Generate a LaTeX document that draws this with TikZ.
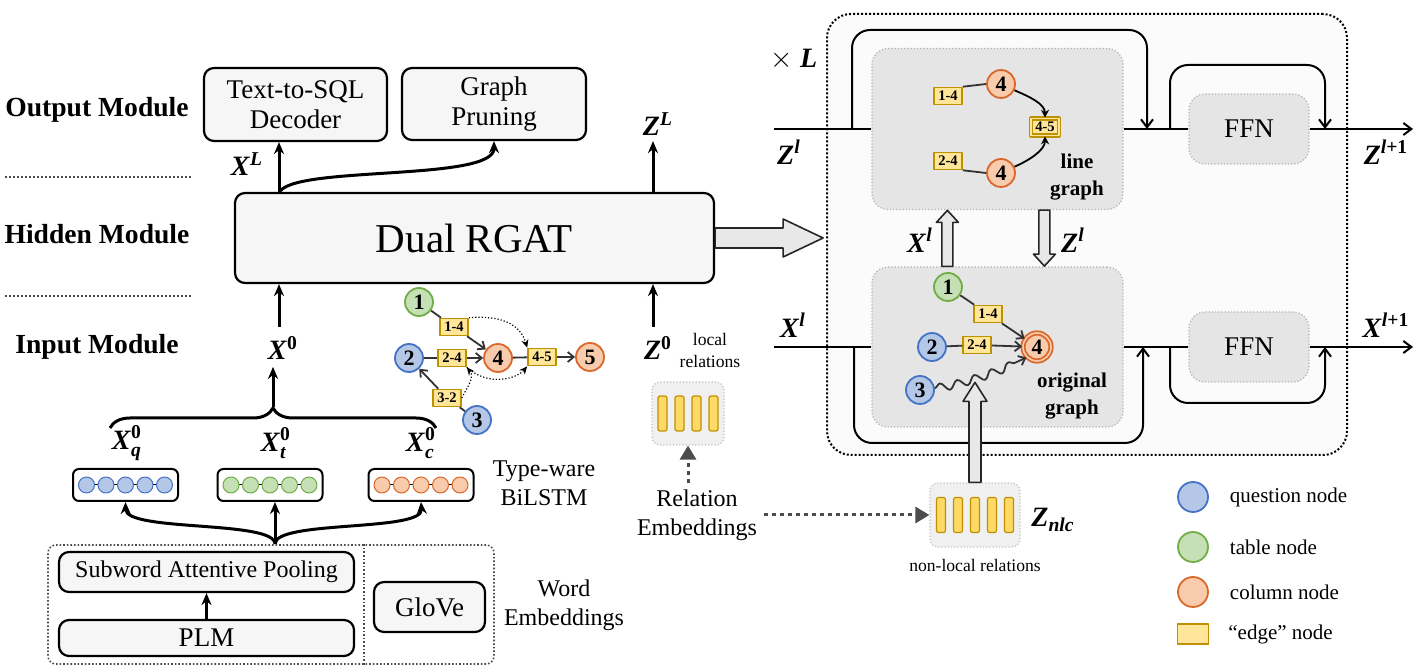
\documentclass[tikz,border=0pt]{standalone}
\usepackage{amsmath}
\usepackage{fontspec}
\setmainfont{Liberation Serif}
\usetikzlibrary{arrows.meta,calc,positioning,decorations.pathreplacing,decorations.pathmorphing}

\definecolor{qfill}{HTML}{B4C7E7}
\definecolor{qline}{HTML}{4472C4}
\definecolor{tfill}{HTML}{C5E0B4}
\definecolor{tline}{HTML}{70AD47}
\definecolor{cfill}{HTML}{F8CBAD}
\definecolor{cline}{HTML}{D9682A}
\definecolor{efill}{HTML}{FFE699}
\definecolor{eline}{HTML}{BF9000}
\definecolor{barc}{HTML}{FFD966}

\newcommand{\mvar}[1]{\textbf{\textit{#1}}}
\newcommand{\fsTxt}{\fontsize{12}{14.5}\selectfont}
\newcommand{\fsMod}{\fontsize{13.8}{15}\selectfont\bfseries}
\newcommand{\fsBox}{\fontsize{13.5}{15}\selectfont}
\newcommand{\fsBig}{\fontsize{20.5}{24}\selectfont}
\newcommand{\fsMid}{\fontsize{12}{14.5}\selectfont}
\newcommand{\fsSm}{\fontsize{8.8}{11}\selectfont}
\newcommand{\fsLeg}{\fontsize{10.5}{12}\selectfont}
\newcommand{\fsMath}{\fontsize{14}{15}\selectfont}
\newcommand{\fsNum}{\fontsize{11}{12}\selectfont\bfseries}
\newcommand{\fsEdge}{\fontsize{7.3}{8}\selectfont\bfseries}
\newcommand{\fsGr}{\fontsize{10.5}{13.5}\selectfont\bfseries}

\tikzset{
  pics/fatarrow/.style n args={4}{code={
    \draw[hollow] (0,-#2) -- (#1-#4,-#2) -- (#1-#4,-#3) -- (#1,0) -- (#1-#4,#3) -- (#1-#4,#2) -- (0,#2) -- cycle;}},
}

\begin{document}
\begin{tikzpicture}[x=0.5pt, y=-0.5pt, line join=round,
    every node/.append style={font=\fsTxt},
    tbox/.style={draw, line width=1.1pt, rounded corners=5pt, fill=gray!7, align=center, inner sep=0pt, font=\fsBox},
    gbox/.style={draw=gray!60, densely dotted, line width=0.6pt, fill=gray!20, rounded corners=8pt, inner sep=0pt},
    rbox/.style={draw=gray!50, densely dotted, line width=0.6pt, fill=gray!12, rounded corners=4pt, inner sep=0pt},
    modsep/.style={draw=gray!60!black, densely dotted, line width=1pt},
    thk/.style={line width=1.5pt},
    arr/.style={-{Stealth[length=6pt,width=5pt]}},
    rline/.style={line width=1pt},
    rtip/.style={-{Straight Barb[length=4pt,width=6pt]}},
    gedge/.style={draw=gray!40!black, line width=0.9pt},
    gtip/.style={-{Straight Barb[length=3pt,width=5pt]}},
    hollow/.style={draw=black!85, line width=0.8pt, fill=gray!18},
    relarr/.style={draw=gray!60!black, line width=1.5pt, dash pattern=on 2pt off 2pt, -{Triangle[length=7pt,width=8pt]}},
    mlbl/.style={font=\fsMath},
    gnode/.style={circle, line width=0.9pt, inner sep=0pt, minimum size=14pt, font=\fsNum},
    qn/.style={gnode, draw=qline, fill=qfill},
    tn/.style={gnode, draw=tline, fill=tfill},
    cn/.style={gnode, draw=cline, fill=cfill},
    en/.style={draw=eline, fill=efill, line width=0.8pt, inner sep=0.8pt, minimum width=14pt, minimum height=8.5pt, font=\fsEdge},
    lstdot/.style={circle, line width=0.5pt, inner sep=0pt, minimum size=8pt},
    lstm/.style={draw, line width=1pt, rounded corners=3pt, fill=white, minimum width=52.5pt, minimum height=16pt, inner sep=0pt},
    relbar/.style={draw=eline, fill=barc, line width=0.6pt, rounded corners=1pt, minimum width=4.5pt, minimum height=17.5pt, inner sep=0pt},
  ]
    \useasboundingbox (0,0) rectangle (1419,672);

    % module labels
    \node[font=\fsMod] (outlbl) at (97,110) {Output Module};
    \node[font=\fsMod] (hidlbl) at (97,234) {Hidden Module};
    \node[font=\fsMod] (inlbl) at (97,347) {Input Module};
    \draw[modsep] (5,177) -- (193,177);
    \draw[modsep] (5,296) -- (193,296);

    % output and hidden module
    \node[tbox, minimum width=91.5pt, minimum height=36.5pt] (dec) at (295.5,104.5) {Text-to-SQL\\Decoder};
    \node[tbox, minimum width=92pt, minimum height=36pt] (gp) at (494,104) {Graph\\Pruning};
    \node[tbox, minimum width=239.5pt, minimum height=45pt, font=\fsBig] (rgat) at (474.5,238) {Dual RGAT};
    \coordinate (xout) at (279,193);
    \coordinate (zout) at (653,193);
    \draw[thk,arr] (xout) -- (xout |- dec.south);
    \draw[thk,arr] (xout) .. controls (290,165) and (494,182) .. (gp.south);
    \draw[thk,arr] (zout) -- (zout |- gp.south);
    \node[mlbl] (xL) at (247,164) {$\mvar{X}^{\mvar{L}}$};
    \node[mlbl] (zL) at (658,124) {$\mvar{Z}^{\mvar{L}}$};

    % input module
    \node[mlbl] (x0) at (283,348) {$\mvar{X}^{\textbf{0}}$};
    \node[mlbl] (z0) at (658,348) {$\mvar{Z}^{\textbf{0}}$};
    \coordinate (xin) at (279,327);
    \coordinate (zin) at (653,327);
    \draw[thk,arr] (xin) -- (xin |- rgat.south);
    \draw[thk,arr] (zin) -- (zin |- rgat.south);
    \draw[thk, decorate, decoration={brace, amplitude=10pt}] (110,428) -- (436,428);
    \coordinate (brtip) at (273,407);
    \draw[thk,arr] (brtip) -- (brtip |- x0.south);
    \node[mlbl] (xq) at (127,443) {$\mvar{X}^{\textbf{0}}_{\mvar{q}}$};
    \node[mlbl] (xt) at (276,443) {$\mvar{X}^{\textbf{0}}_{\mvar{t}}$};
    \node[mlbl] (xc) at (421,443) {$\mvar{X}^{\textbf{0}}_{\mvar{c}}$};

    \node[lstm] (lstq) at (125.5,485) {};
    \node[lstm] (lstt) at (270,485) {};
    \node[lstm] (lstc) at (421,485) {};
    \foreach \b/\f/\d in {lstq/qfill/qline, lstt/tfill/tline, lstc/cfill/cline}{
      \draw[line width=0.5pt] ($(\b)+(-39,0)$) -- ($(\b)+(39,0)$);
      \foreach \i in {-2,...,2}
        \node[lstdot, draw=\d, fill=\f] at ($(\b)+(\i*19.5,0)$) {};
    }
    \node[font=\fsMid, align=center] (bilstm) at (544,483) {Type-ware\\BiLSTM};

    \coordinate (fork) at (275,544);
    \draw[thk,arr] (fork) -- (fork |- lstt.south);
    \draw[thk,arr] (fork) .. controls (275,520) and (126,532) .. (lstq.south);
    \draw[thk,arr] (fork) .. controls (275,520) and (423,532) .. (lstc.south);

    % word embeddings
    \node[draw=gray!60!black, densely dotted, line width=0.8pt, rounded corners=4pt, minimum width=223pt, minimum height=59.5pt, inner sep=0pt] (we) at (271,604.5) {};
    \draw[gray!60!black, densely dotted, line width=0.8pt] ($(we.north west)+(317,0)$) -- ($(we.south west)+(317,0)$);
    \node[tbox, minimum width=147.5pt, minimum height=20pt, font=\fsMid] (sap) at (206.5,572) {Subword Attentive Pooling};
    \node[tbox, minimum width=147.5pt, minimum height=18pt] (plm) at (206.5,638) {PLM};
    \draw[thk,arr] (plm) -- (sap);
    \node[tbox, minimum width=55.5pt, minimum height=25pt] (glove) at (429.5,607) {GloVe};
    \node[font=\fsMid, align=center] (wemb) at (564,605) {Word\\Embeddings};

    % example graph
    \node[tn] (g1) at (419,302) {1};
    \node[en] (g14) at (454,327) {1-4};
    \node[qn] (g2) at (409,358) {2};
    \node[en] (g24) at (452,358) {2-4};
    \node[cn] (g4) at (498,358) {4};
    \node[en] (g45) at (542,357) {4-5};
    \node[cn] (g5) at (590,357) {5};
    \node[en] (g32) at (447,398) {3-2};
    \node[qn] (g3) at (477,420) {3};
    \draw[gedge] (g1) -- (g14);
    \draw[gedge,gtip] (g14) -- (g4);
    \draw[gedge] (g2) -- (g24);
    \draw[gedge,gtip] (g24) -- (g4);
    \draw[gedge] (g4) -- (g45);
    \draw[gedge,gtip] (g45) -- (g5);
    \draw[gedge] (g3) -- (g32);
    \draw[gedge,gtip] (g32) -- (g2);
    \draw[densely dotted, line width=0.6pt, -{Stealth[length=4pt,width=3.5pt]}] (g14.north east) .. controls +(38,-3) and +(-6,-20) .. (g45.north west);
    \draw[densely dotted, line width=0.6pt, -{Stealth[length=4pt,width=3.5pt]}] (g24.south east) .. controls +(22,20) and +(-10,12) .. (g45.south west);
    \draw[densely dotted, line width=0.6pt, -{Stealth[length=4pt,width=3.5pt]}] (g32.east) .. controls +(6,-12) and +(8,10) .. (g24.south east);

    % relations
    \node[rbox, minimum width=36pt, minimum height=31.5pt] (lrel) at (688,413.5) {};
    \foreach \i in {-1.5,-0.5,0.5,1.5}
      \node[relbar] at ($(lrel)+(\i*17,0)$) {};
    \node[font=\fsSm, align=center] (lreltxt) at (710,350) {local\\relations};
    \node[font=\fsMid, align=center] (relemb) at (697,515) {Relation\\Embeddings};
    \node[rbox, minimum width=45pt, minimum height=32pt] (nlc) at (975,515) {};
    \foreach \i in {-2,...,2}
      \node[relbar] at ($(nlc)+(\i*17,0)$) {};
    \draw[relarr] (relemb.north -| lrel.south) -- (lrel.south);
    \draw[relarr] (relemb.east) -- (nlc.west);
    \node[mlbl] (znlc) at (1053,520) {$\mvar{Z}_{\mvar{nlc}}$};
    \node[font=\fsSm] (nlctxt) at (975,565) {non-local relations};

    % dual rgat layer
    \node[draw, densely dotted, line width=1pt, fill=gray!3, rounded corners=12pt, minimum width=260pt, minimum height=220.5pt, inner sep=0pt] (blk) at (1087,234.5) {};
    \pic at (rgat.east) {fatarrow={108}{10}{19}{40}};
    \node[mlbl] (times) at (794,60) {$\times$ \mvar{L}};
    \node[gbox, minimum width=125.5pt, minimum height=80.5pt] (lg) at (997.5,129) {};
    \node[gbox, minimum width=125.5pt, minimum height=80pt] (og) at (997.5,347) {};
    \node[gbox, minimum width=60pt, minimum height=35pt, font=\fsBox] (ffn1) at (1249,129) {FFN};
    \node[gbox, minimum width=60pt, minimum height=35pt, font=\fsBox] (ffn2) at (1249,347) {FFN};

    \coordinate (zlin) at (774,129);
    \coordinate (zlout) at (1413,129);
    \coordinate (xlin) at (774,347);
    \coordinate (xlout) at (1413,347);
    \draw[rline] (zlin) -- (lg.west);
    \draw[rline] (lg.east) -- (ffn1.west);
    \draw[rline,rtip] (ffn1.east) -- (zlout);
    \draw[rline] (xlin) -- (og.west);
    \draw[rline] (og.east) -- (ffn2.west);
    \draw[rline,rtip] (ffn2.east) -- (xlout);
    \coordinate (s1) at (852,129);
    \coordinate (s1e) at (1147,129);
    \coordinate (s2) at (1170,129);
    \coordinate (s2e) at (1325,129);
    \coordinate (s3) at (854,347);
    \coordinate (s3e) at (1143,347);
    \coordinate (s4) at (1170,347);
    \coordinate (s4e) at (1325,347);
    \draw[rline,rtip,rounded corners=9pt] (s1) |- ($(s1e)+(0,-99)$) -- (s1e);
    \draw[rline,rtip,rounded corners=9pt] (s2) |- ($(s2e)+(0,-64)$) -- (s2e);
    \draw[rline,rtip,rounded corners=9pt] (s3) |- ($(s3e)+(0,96)$) -- (s3e);
    \draw[rline,rtip,rounded corners=9pt] (s4) |- ($(s4e)+(0,56)$) -- (s4e);
    \node[mlbl] (zl) at (789,152) {$\mvar{Z}^{\mvar{l}}$};
    \node[mlbl] (xl) at (793,325) {$\mvar{X}^{\mvar{l}}$};
    \node[mlbl] (zl1) at (1386,152) {$\mvar{Z}^{\mvar{l}\textbf{+1}}$};
    \node[mlbl] (xl1) at (1386,325) {$\mvar{X}^{\mvar{l}\textbf{+1}}$};

    \pic[rotate=90] at ($(og.north west)+(76,0)$) {fatarrow={56}{5.5}{11}{12}};
    \pic[rotate=-90] at ($(lg.south west)+(173,0)$) {fatarrow={56}{5.5}{11}{12}};
    \pic[rotate=90] at (nlc.north) {fatarrow={100}{6}{12}{19}};
    \node[mlbl] (xlm) at (920,240) {$\mvar{X}^{\mvar{l}}$};
    \node[mlbl] (zlm) at (1073,240) {$\mvar{Z}^{\mvar{l}}$};

    % line graph
    \node[en] (l14) at (948,96) {1-4};
    \node[cn] (l4a) at (1001,84) {4};
    \node[en, double=efill, double distance=0.8pt] (l45) at (1045,127) {4-5};
    \node[en] (l24) at (948,161) {2-4};
    \node[cn] (l4b) at (1001,173) {4};
    \node[font=\fsGr, align=center] (lgtxt) at (1077,177) {line\\graph};
    \draw[gedge] (l14.north east) -- (l4a.west);
    \draw[gedge] (l24.south east) -- (l4b.west);
    \draw[gedge, draw=black, -{Stealth[length=4pt,width=4pt]}] (l4a.-25) .. controls +(14,6) and +(0,-14) .. (l45.north);
    \draw[gedge, draw=black, -{Stealth[length=4pt,width=4pt]}] (l4b.25) .. controls +(14,-6) and +(0,14) .. (l45.south);

    % original graph
    \node[tn] (o1) at (948,287) {1};
    \node[en] (o14) at (988,314) {1-4};
    \node[qn] (o2) at (932,347) {2};
    \node[en] (o24) at (977,345) {2-4};
    \node[cn, double=cfill, double distance=0.8pt] (o4) at (1037,347) {4};
    \node[qn] (o3) at (920,390) {3};
    \node[font=\fsGr, align=center] (ogtxt) at (1072,396) {original\\graph};
    \draw[gedge] (o1) -- (o14);
    \draw[gedge,gtip] (o14) -- (o4);
    \draw[gedge] (o2) -- (o24);
    \draw[gedge,gtip] (o24) -- (o4);
    \draw[gedge, gtip, decorate, decoration={snake, amplitude=2pt, segment length=9pt, post length=4pt}] (o3) .. controls (960,385) and (1000,370) .. (o4.south west);

    % legend
    \node[qn, minimum size=15pt] (legq) at (1193,497) {};
    \node[tn, minimum size=15pt] (legt) at (1193,547) {};
    \node[cn, minimum size=15pt] (legc) at (1193,592) {};
    \node[en, minimum width=15.5pt, minimum height=10pt] (lege) at (1193,634) {};
    \node[font=\fsLeg, right=7pt of legq] (legqt) {question node};
    \node[font=\fsLeg, right=7pt of legt] (legtt) {table node};
    \node[font=\fsLeg, right=7pt of legc] (legct) {column node};
    \node[font=\fsLeg, right=6pt of lege] (leget) {“edge” node};
\end{tikzpicture}
\end{document}
